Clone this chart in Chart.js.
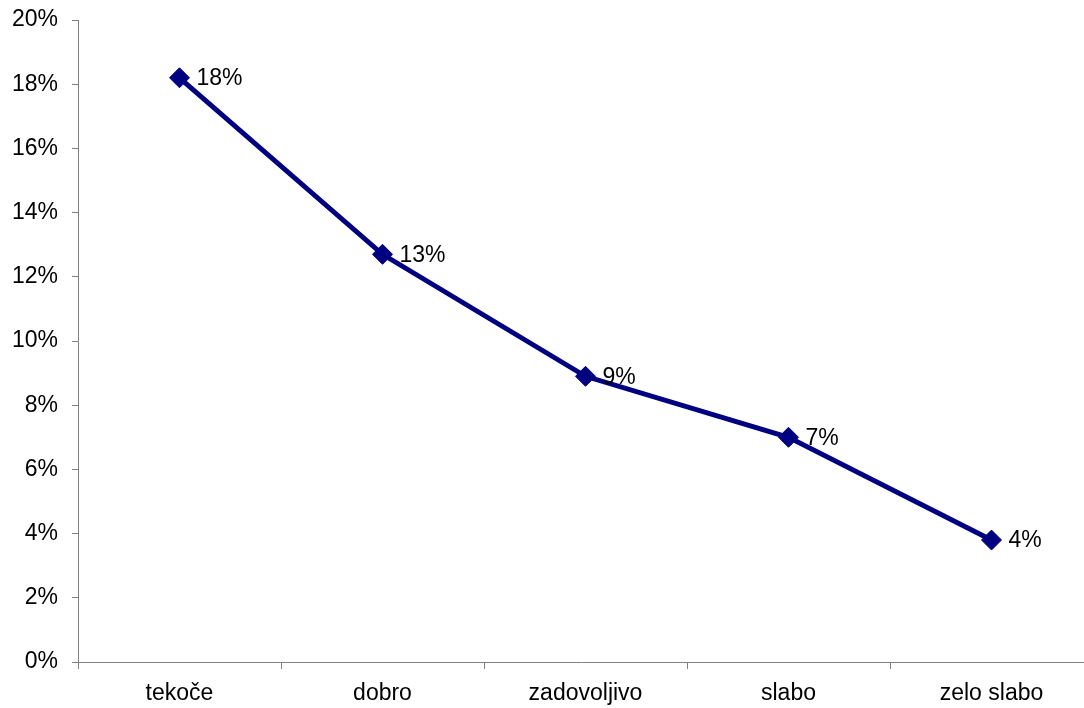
<!DOCTYPE html>
<html>
<head>
<meta charset="utf-8">
<script src="https://cdn.jsdelivr.net/npm/chart.js@4"></script>
<style>
  html, body { margin: 0; padding: 0; background: #fff; overflow: hidden; }
  #chart { display: block; }
</style>
</head>
<body>
<canvas id="chart" width="1084" height="708"></canvas>
<script>
// Data
const categories = ['tekoče', 'dobro', 'zadovoljivo', 'slabo', 'zelo slabo'];
const shares = [18.2, 12.7, 8.9, 7.0, 3.8];
const yTicks = [0, 2, 4, 6, 8, 10, 12, 14, 16, 18, 20];

const navy = '#000080';
const fontFamily = '"Liberation Sans", Arial, sans-serif';

// The original plot area runs a little past the right edge of the picture
const stretchX = {
  id: 'stretchX',
  afterLayout(chart) {
    const x = chart.scales.x;
    x.right = x.left + 1015;
    x.width = 1015;
    x.configure();
  }
};

// Draws the rounded percentage next to each point
const pointLabels = {
  id: 'pointLabels',
  afterDatasetsDraw(chart) {
    const ctx = chart.ctx;
    const meta = chart.getDatasetMeta(0);
    ctx.save();
    ctx.font = '23px ' + fontFamily;
    ctx.fillStyle = '#000';
    ctx.textAlign = 'left';
    ctx.textBaseline = 'middle';
    meta.data.forEach((pt, i) => {
      ctx.fillText(Math.round(shares[i]) + '%', pt.x + 17, pt.y + 1);
    });
    ctx.restore();
  }
};

new Chart(document.getElementById('chart'), {
  type: 'line',
  data: {
    labels: categories,
    datasets: [{
      data: shares,
      borderColor: navy,
      backgroundColor: navy,
      borderWidth: 5,
      tension: 0,
      pointStyle: 'rectRot',
      pointRadius: 10,
      pointHoverRadius: 10,
      pointBackgroundColor: navy,
      pointBorderColor: navy,
      pointBorderWidth: 1
    }]
  },
  options: {
    responsive: false,
    animation: false,
    layout: { padding: { top: 20, right: 0, left: 0, bottom: 0 } },
    plugins: {
      legend: { display: false },
      tooltip: { enabled: false }
    },
    scales: {
      x: {
        offset: true,
        grid: {
          offset: true,
          drawOnChartArea: false,
          drawTicks: true,
          tickLength: 7,
          color: '#808080'
        },
        border: { color: '#808080', width: 1 },
        ticks: {
          color: '#000',
          font: { family: fontFamily, size: 23 },
          padding: 11,
          maxRotation: 0
        },
        afterFit(scale) {
          scale.height = 46;
          scale.paddingLeft = 0;
          scale.paddingRight = 0;
        }
      },
      y: {
        min: 0,
        max: 20,
        afterBuildTicks(scale) { scale.ticks = yTicks.map(v => ({ value: v })); },
        grid: {
          drawOnChartArea: false,
          drawTicks: true,
          tickLength: 6,
          color: '#808080'
        },
        border: { color: '#808080', width: 1 },
        ticks: {
          color: '#000',
          font: { family: fontFamily, size: 23 },
          padding: 14,
          callback: v => v + '%'
        },
        afterFit(scale) {
          scale.width = 78;
          scale.paddingTop = 0;
          scale.paddingBottom = 0;
        }
      }
    }
  },
  plugins: [stretchX, pointLabels]
});
</script>
</body>
</html>
